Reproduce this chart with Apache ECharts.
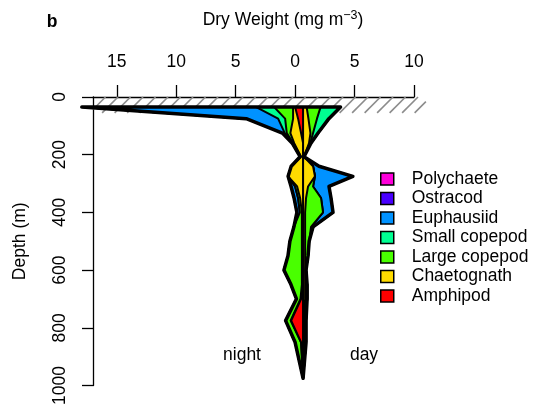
<!DOCTYPE html>
<html><head><meta charset="utf-8">
<script src="https://cdn.jsdelivr.net/npm/echarts@6/dist/echarts.min.js"></script>
<style>html,body{margin:0;padding:0;background:#fff}#c{width:537px;height:408px}</style>
</head><body><div id="c"></div>
<script>
// ---- data (dry weight, mg m^-3) ----
const depths = [35,75,125,160,207,240,275,310,350,400,450,500,550,600,650,700,775,850,975];
const taxaInnerToOuter = ['Amphipod','Chaetognath','Large copepod','Small copepod','Euphausiid','Ostracod','Polychaete'];
const legendOrder = ['Polychaete','Ostracod','Euphausiid','Small copepod','Large copepod','Chaetognath','Amphipod'];
const taxaColors = ['#FF0000','#FFDB00','#49FF00','#00FF92','#0092FF','#4900FF','#FF00DB'];

const amphipodNight   = [0.67,0.42,0.17,0,0,0,0,0,0,0,0,0,0,0,0,0.17,1.0,0.17,0];
const chaetognathNight= [0.17,0.42,0.9,0.75,0.17,1.0,1.26,0.5,0.25,0.1,0.1,0.1,0.1,0.1,0.1,0.05,0.05,0,0];
const largeCopNight   = [1.59,0.67,0.3,0.08,0,0,0,0.17,0.17,0.17,0.67,1.01,1.17,1.51,0.92,0.34,0.42,0.5,0];
const smallCopNight   = [1.51,0.59,0.17,0,0,0,0,0,0,0,0,0,0,0,0,0,0,0,0];
const euphausiidNight = [14.67,2.68,0.2,0.08,0.08,0,0,0.34,0.34,0.25,0,0,0,0,0,0,0,0,0];
const ostracodNight   = [0,0,0,0,0,0,0,0,0,0,0,0,0,0,0,0,0,0,0];
const polychaeteNight = [0,0,0,0,0,0,0,0,0,0,0,0,0,0,0,0,0,0,0];

const amphipodDay     = [0,0,0,0,0,0,0,0,0,0,0,0,0,0,0,0,0,0,0];
const chaetognathDay  = [0.3,0.45,0.62,0.5,0.08,0.84,1.0,0.42,0.25,0.17,0.17,0.17,0.17,0.17,0.17,0.17,0.08,0.08,0];
const largeCopDay     = [1.17,0.72,0.22,0.1,0,0,0,0.42,1.26,1.51,0.5,0.34,0.25,0.08,0.17,0.17,0.17,0.17,0];
const smallCopDay     = [1.68,1.0,0.42,0.06,0,0,0,0,0,0,0,0,0,0,0,0,0,0,0];
const euphausiidDay   = [0,0,0,0,0,0.5,3.19,1.34,0.84,0.84,0.17,0,0,0,0,0,0,0,0];
const ostracodDay     = [0,0,0,0,0,0,0,0,0,0,0,0,0,0,0,0,0,0,0];
const polychaeteDay   = [0,0,0,0,0,0,0,0,0,0,0,0,0,0,0,0,0,0,0];

const xTicks = [-15,-10,-5,0,5,10];
const yTicks = [0,200,400,600,800,1000];

// ---- layout / style constants ----
const centre = 0.67;           // kite centre line on the x scale
const hatchDepth = [0,55];
const hatchX = [-17,11];

const nightArrs = [amphipodNight,chaetognathNight,largeCopNight,smallCopNight,euphausiidNight,ostracodNight,polychaeteNight];
const dayArrs = [amphipodDay,chaetognathDay,largeCopDay,smallCopDay,euphausiidDay,ostracodDay,polychaeteDay];
function cum(arrs,k,i){let s=0;for(let j=0;j<=k;j++)s+=arrs[j][i];return s;}
function layerPoints(api,k){
  const pts=[];
  for(let i=0;i<depths.length;i++) pts.push(api.coord([centre+cum(dayArrs,k,i),depths[i]]));
  for(let i=depths.length-1;i>=0;i--) pts.push(api.coord([centre-cum(nightArrs,k,i),depths[i]]));
  return pts;
}
const FONT='"Liberation Sans", Arial, Helvetica, sans-serif';
const series=[];
// hatch band
series.push({
  type:'custom', name:'hatch', silent:true, clip:false, data:[0], z:1,
  renderItem:function(params,api){
    const tl=api.coord([hatchX[0],hatchDepth[0]]), br=api.coord([hatchX[1],hatchDepth[1]]);
    const h=br[1]-tl[1], sp=12.5, children=[];
    for(let x=tl[0]-h; x<br[0]; x+=sp){
      let x0=x, y0=br[1], x1=x+h, y1=tl[1];
      if(x0<tl[0]){ y0=br[1]-(tl[0]-x0); x0=tl[0]; }
      if(x1>br[0]){ y1=tl[1]+(x1-br[0]); x1=br[0]; }
      if(x1<=x0) continue;
      children.push({type:'line',shape:{x1:x0,y1:y0,x2:x1,y2:y1},style:{stroke:'#8c8c8c',lineWidth:1.6}});
    }
    return {type:'group',children};
  }
});
for(let k=taxaInnerToOuter.length-1;k>=0;k--){
  series.push({
    type:'custom', name:taxaInnerToOuter[k], clip:false, data:[0], z:2,
    itemStyle:{color:taxaColors[k],borderColor:'#000',borderWidth:1.5},
    renderItem:(function(kk){return function(params,api){
      return {type:'polygon',shape:{points:layerPoints(api,kk)},
        style:{fill:taxaColors[kk],stroke:'#000',lineWidth:2,lineJoin:'round'}};
    };})(k)
  });
}
// envelope outline
series.push({
  type:'custom', name:'envelope', silent:true, clip:false, data:[0], z:3,
  renderItem:function(params,api){
    return {type:'polygon',shape:{points:layerPoints(api,taxaInnerToOuter.length-1)},
      style:{fill:null,stroke:'#000',lineWidth:3.5,lineJoin:'round'}};
  }
});
// centre line
series.push({
  type:'custom', name:'centreline', silent:true, clip:false, data:[0], z:4,
  renderItem:function(params,api){
    const a=api.coord([centre,depths[0]]), b=api.coord([centre,depths[depths.length-1]]);
    return {type:'line',shape:{x1:a[0],y1:a[1],x2:b[0],y2:b[1]},style:{stroke:'#000',lineWidth:1.3}};
  }
});

const chart=echarts.init(document.getElementById('c'),null,{renderer:'canvas'});
chart.setOption({
  animation:false,
  backgroundColor:'#fff',
  textStyle:{fontFamily:FONT},
  grid:{left:93,right:123,top:97,bottom:21.5,containLabel:false},
  xAxis:{type:'value',position:'top',min:-17,max:10,
    axisLine:{show:true,onZero:false,lineStyle:{color:'#000',width:1.3}},
    axisTick:{show:true,length:12,customValues:xTicks,lineStyle:{color:'#000',width:1.3}},
    axisLabel:{customValues:xTicks,formatter:v=>String(Math.abs(v)),color:'#000',fontSize:17.5,margin:26,fontFamily:FONT},
    splitLine:{show:false}},
  yAxis:{type:'value',inverse:true,min:0,max:1000,interval:200,
    name:'Depth (m)',nameLocation:'middle',nameGap:64,nameRotate:90,
    nameTextStyle:{color:'#000',fontSize:17.5,fontFamily:FONT},
    axisLine:{show:true,onZero:false,lineStyle:{color:'#000',width:1.3}},
    axisTick:{show:true,length:11,customValues:yTicks,lineStyle:{color:'#000',width:1.3}},
    axisLabel:{customValues:yTicks,formatter:v=>String(v),rotate:90,color:'#000',fontSize:17.5,margin:24,fontFamily:FONT},
    splitLine:{show:false}},
  legend:{data:legendOrder,orient:'vertical',left:380,top:170,padding:0,itemWidth:13,itemHeight:12,itemGap:1.5,
    icon:'rect',selectedMode:false,
    itemStyle:{borderColor:'#000',borderWidth:1.5},
    textStyle:{color:'#000',fontSize:17.5,fontFamily:FONT,padding:[0,0,0,13]}},
  graphic:[
    {type:'text',x:52,y:22,style:{text:'b',font:'bold 17.5px '+FONT,fill:'#000',align:'center',verticalAlign:'middle'}},
    {type:'text',x:283,y:20,style:{text:'{a|Dry Weight (mg m}{s|−3}{a|)}',align:'center',verticalAlign:'middle',
      rich:{a:{fontSize:17.5,fontFamily:FONT,fill:'#000',color:'#000'},s:{fontSize:12.5,fontFamily:FONT,color:'#000',padding:[0,0,9,0]}}}},
    {type:'text',x:242,y:355,style:{text:'night',font:'17.5px '+FONT,fill:'#000',align:'center',verticalAlign:'middle'}},
    {type:'text',x:364,y:355,style:{text:'day',font:'17.5px '+FONT,fill:'#000',align:'center',verticalAlign:'middle'}}
  ],
  series:series
});
</script></body></html>
